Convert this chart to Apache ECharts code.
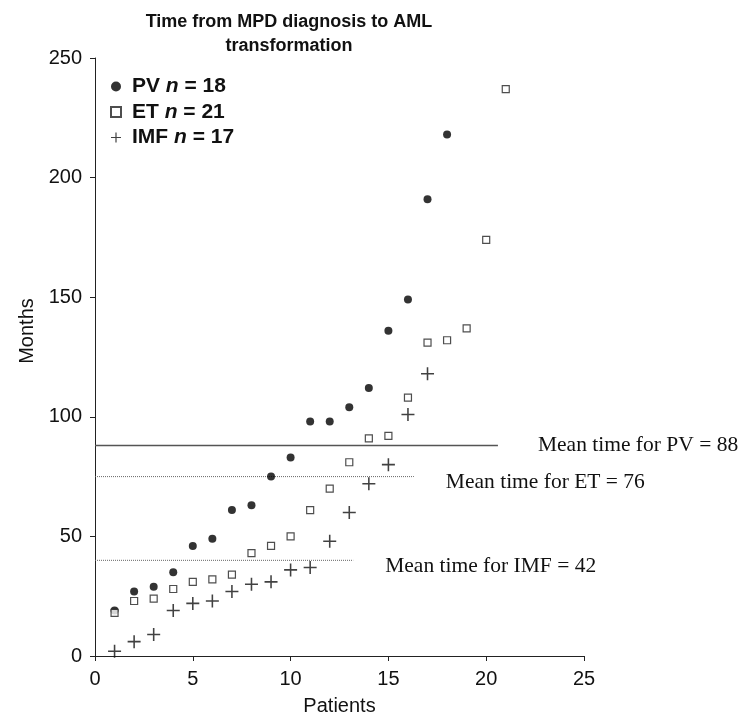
<!DOCTYPE html>
<html>
<head>
<meta charset="utf-8">
<script src="https://cdn.jsdelivr.net/npm/echarts@6/dist/echarts.min.js"></script>
<style>
  html, body { margin: 0; padding: 0; background: #fff; }
  #main { width: 739px; height: 719px; }
</style>
</head>
<body>
<div id="main"></div>
<script>
// months from MPD diagnosis to AML, patients sorted ascending
var pvMonths = [19, 27, 29, 35, 46, 49, 61, 63, 75, 83, 98, 98, 104, 112, 136, 149, 191, 218];
var etMonths = [18, 23, 24, 28, 31, 32, 34, 43, 46, 50, 61, 70, 81, 91, 92, 108, 131, 132, 137, 174, 237];
var imfMonths = [2, 6, 9, 19, 22, 23, 27, 30, 31, 36, 37, 48, 60, 72, 80, 101, 118];

var groupNames = ["PV", "ET", "IMF"];
var meanValues = [88, 76, 42];      // as written in the labels
var meanLineAt = [88, 75, 40];      // where the lines sit on the picture
var meanLineEnd = [20.6, 16.3, 13.2];

var xTicks = [0, 5, 10, 15, 20, 25];
var yTicks = [0, 50, 100, 150, 200, 250];

function toPoints(arr) {
    return arr.map(function (v, i) { return [i + 1, v]; });
}

var plusPath = "path://M0,4.4H10V5.6H0Z M4.4,0H5.6V10H4.4Z";

var chart = echarts.init(document.getElementById("main"));

var meanStyles = [
    { type: "solid", width: 1.5, color: "#555" },
    { type: [1, 1], width: 1, color: "#666" },
    { type: [1, 1], width: 1, color: "#666" }
];
var labelShift = [[40, 0], [32, 6], [32, 6]];

var meanSeries = groupNames.map(function (g, k) {
    return {
        name: "mean" + g,
        type: "line",
        data: [[0, meanLineAt[k]], [meanLineEnd[k], meanLineAt[k]]],
        symbol: "none",
        silent: true,
        lineStyle: meanStyles[k],
        endLabel: {
            show: true,
            formatter: "Mean time for " + g + " = " + meanValues[k],
            distance: 0,
            offset: labelShift[k],
            fontFamily: "Liberation Serif",
            fontSize: 21.5,
            color: "#111"
        },
        z: 1
    };
});

var tickFont = { fontFamily: "Liberation Sans", fontSize: 20, color: "#111" };
var legendBold = { fontFamily: "Liberation Sans", fontWeight: "bold", fontSize: 21, lineHeight: 21, color: "#111" };

chart.setOption({
    animation: false,
    title: {
        text: "Time from MPD diagnosis to AML\ntransformation",
        left: 284,
        textAlign: "center",
        top: 5,
        textStyle: {
            fontFamily: "Liberation Sans",
            fontWeight: "bold",
            fontSize: 18,
            lineHeight: 24,
            color: "#111"
        }
    },
    legend: {
        data: groupNames,
        orient: "vertical",
        left: 110,
        top: 76,
        padding: 0,
        itemWidth: 10,
        itemHeight: 10,
        itemGap: 4.5,
        formatter: function (name) {
            var counts = { PV: pvMonths.length, ET: etMonths.length, IMF: imfMonths.length };
            return "{s| }{b|" + name + " }{i|n}{b| = " + counts[name] + "}";
        },
        textStyle: {
            rich: {
                s: { width: 6, fontSize: 21, lineHeight: 21 },
                b: legendBold,
                i: Object.assign({}, legendBold, { fontStyle: "italic" })
            }
        }
    },
    grid: { left: 95, right: 155, top: 58, bottom: 63, outerBoundsMode: "none" },
    xAxis: {
        type: "value",
        min: xTicks[0],
        max: xTicks[xTicks.length - 1],
        interval: 5,
        name: "Patients",
        nameLocation: "middle",
        nameGap: 40,
        nameTextStyle: { fontFamily: "Liberation Sans", fontSize: 20, color: "#111" },
        axisLine: { lineStyle: { color: "#222", width: 1 } },
        axisTick: { show: true, length: 5, lineStyle: { color: "#222" } },
        axisLabel: Object.assign({ margin: 13 }, tickFont),
        splitLine: { show: false }
    },
    yAxis: {
        type: "value",
        min: yTicks[0],
        max: yTicks[yTicks.length - 1],
        interval: 50,
        name: "Months",
        nameLocation: "middle",
        nameGap: 54,
        nameRotate: 90,
        nameTextStyle: { fontFamily: "Liberation Sans", fontSize: 20, color: "#111", padding: [0, 0, 0, 52] },
        axisLine: { show: true, lineStyle: { color: "#222", width: 1 } },
        axisTick: { show: true, length: 5, lineStyle: { color: "#222" } },
        axisLabel: Object.assign({ margin: 13 }, tickFont),
        splitLine: { show: false }
    },
    series: meanSeries.concat([
        {
            name: "PV",
            type: "scatter",
            data: toPoints(pvMonths),
            symbol: "circle",
            symbolSize: 8,
            itemStyle: { color: "#000" },
            z: 3
        },
        {
            name: "ET",
            type: "scatter",
            data: toPoints(etMonths),
            symbol: "rect",
            symbolSize: 7,
            itemStyle: { color: "#fff", borderColor: "#222", borderWidth: 1.2 },
            z: 3
        },
        {
            name: "IMF",
            type: "scatter",
            data: toPoints(imfMonths),
            symbol: plusPath,
            symbolSize: 13,
            itemStyle: { color: "#111" },
            z: 3
        }
    ])
});
</script>
</body>
</html>
